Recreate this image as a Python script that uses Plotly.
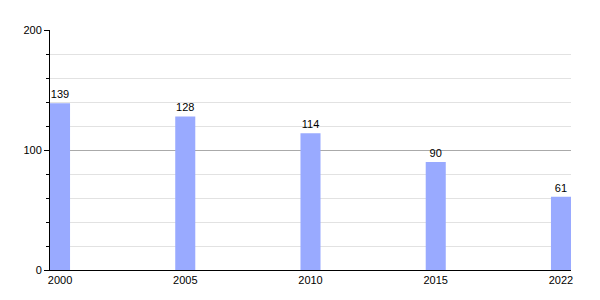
import plotly.graph_objects as go

years = ["2000", "2005", "2010", "2015", "2022"]
values = [139, 128, 114, 90, 61]
positions = list(range(len(years)))

fig = go.Figure(go.Bar(
    x=positions, y=values, width=0.16,
    marker=dict(color="#99AAFF", line=dict(width=0)),
    text=[str(v) for v in values], textposition="outside",
    textfont=dict(family="Liberation Sans, Arial", size=11, color="black"),
    cliponaxis=False,
))

fig.update_layout(
    width=600, height=300,
    margin=dict(l=50, r=29, t=30, b=30),
    paper_bgcolor="white", plot_bgcolor="white",
    showlegend=False,
    font=dict(family="Liberation Sans, Arial", size=11, color="black"),
    xaxis=dict(
        range=[-0.08, 4.08], tickvals=positions, ticktext=years,
        showgrid=False, showline=True, linecolor="black", linewidth=1,
        ticks="", zeroline=False, fixedrange=True,
    ),
    yaxis=dict(
        range=[0, 200], dtick=100, tick0=0,
        showgrid=True, gridcolor="#AAAAAA", gridwidth=1,
        showline=True, linecolor="black", linewidth=1,
        ticks="outside", ticklen=5, tickcolor="black",
        zeroline=False,
        minor=dict(dtick=20, showgrid=True, gridcolor="#E2E2E2",
                   ticks="outside", ticklen=3, tickcolor="black"),
    ),
)

fig.write_html("out.html")
